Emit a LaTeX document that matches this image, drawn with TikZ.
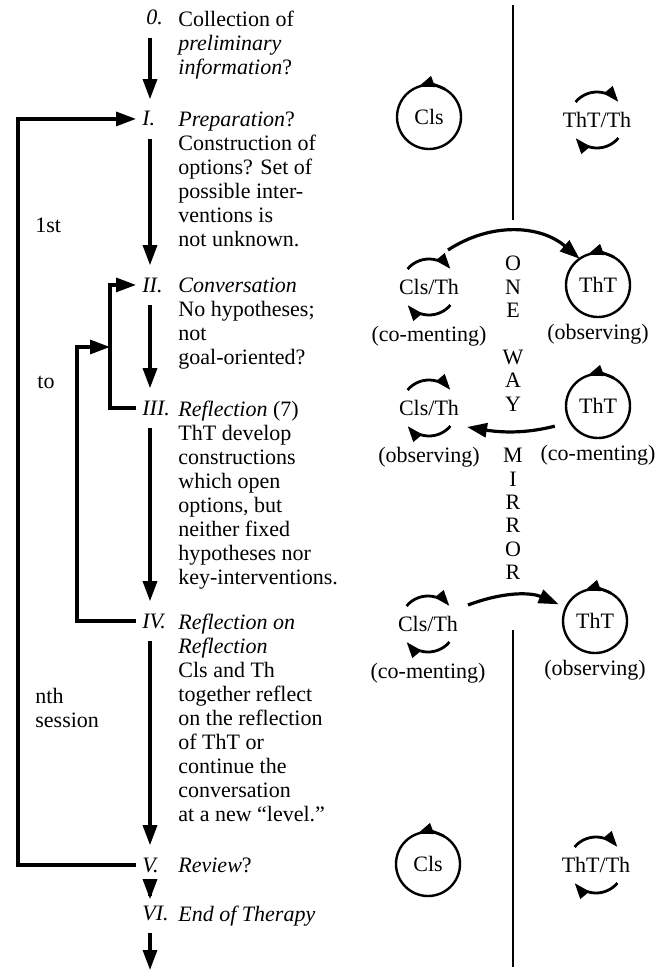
\documentclass[tikz,border=0pt]{standalone}
\usepackage{fontspec}
\setmainfont{Liberation Serif}
\usetikzlibrary{arrows.meta,positioning}

\begin{document}
\begin{tikzpicture}[
    x=0.5pt, y=-0.5pt,
    font=\fontsize{11}{12}\selectfont,
    stage/.style={anchor=north west, align=left, inner sep=0pt},
    num/.style={anchor=base west, inner xsep=3pt, inner ysep=6pt, font=\fontsize{11}{12}\selectfont\itshape},
    side/.style={anchor=base west, inner sep=0pt},
    arrow/.style={-{Triangle[length=10pt,width=7pt]}, line width=1.6pt},
    self/.style={circle, draw, line width=1.2pt, minimum size=32pt, inner sep=0pt, outer sep=0pt},
    pair/.style={inner sep=1pt},
    swirl/.style={-{Triangle[length=8pt,width=5.5pt]}, line width=1.4pt},
    role/.style={inner sep=0pt},
    wall/.style={line width=1.1pt}
  ]
  \useasboundingbox (0,0) rectangle (670,973);

  % stages
  \node[num] (n0) at (140,25) {0.};
  \node[num] (n1) at (136,126) {I.};
  \node[num] (n2) at (136,292) {II.};
  \node[num] (n3) at (136,415) {III.};
  \node[num] (n4) at (136,628) {IV.};
  \node[num] (n5) at (136,872) {V.};
  \node[num] (n6) at (136,920) {VI.};

  \node[stage] (s0) at (178,11) {Collection of\\\textit{preliminary}\\\textit{information}?};
  \node[stage] (s1) at (178,112)
    {\textit{Preparation}?\\Construction of\\options? Set of\\possible inter-\\ventions is\\not unknown.};
  \node[stage] (s2) at (178,278) {\textit{Conversation}\\No hypotheses;\\not\\goal-oriented?};
  \node[stage] (s3) at (178,401)
    {\textit{Reflection} (7)\\ThT develop\\constructions\\which open\\options, but\\neither fixed\\hypotheses nor\\key-interventions.};
  \node[stage] (s4) at (178,614)
    {\textit{Reflection on}\\\textit{Reflection}\\Cls and Th\\together reflect\\on the reflection\\of ThT or\\continue the\\conversation\\at a new ``level.''};
  \node[stage] (s5) at (178,858) {\textit{Review}?};
  \node[stage] (s6) at (178,906) {\textit{End of Therapy}};

  \node[side] (first) at (35,233) {1st};
  \node[side] (to) at (37,388) {to};
  \node[stage] (nth) at (35,688) {nth\\session};

  \coordinate (spine) at (150,0);
  \coordinate (fin) at (150,970);
  \coordinate (outer) at (18,0);
  \coordinate (mid) at (110,0);
  \coordinate (inner) at (77,0);
  \coordinate (join) at (110,347);

  \foreach \a/\b in {n0/n1, n1/n2, n2/n3, n3/n4, n4/n5}
    \draw[arrow] (\a.south -| spine) -- (\b.north -| spine);
  \draw[arrow, shorten <=-5.5pt, shorten >=-3pt] (n5.south -| spine) -- (n6.north -| spine);
  \draw[arrow] (n6.south -| spine) -- (fin);

  % loops
  \draw[arrow] (n5.west) -- (n5.west -| outer) |- (n1.west);
  \draw[arrow] (n3.west) -- (n3.west -| mid) |- (n2.west);
  \draw[arrow] (n4.west) -- (n4.west -| inner) |- (join);

  % mirror
  \node[inner sep=0pt, anchor=north, align=center, font=\fontsize{11}{11.7}\selectfont] (mirror) at (513,256)
    {O\\N\\E\\[11.7pt]W\\A\\Y\\[14pt]M\\I\\R\\R\\O\\R};
  \draw[wall] (513,5) -- (513,220);
  \draw[wall] (513,630) -- (513,967);

  % rooms
  \node[self] (cls1) at (429,117) {Cls};
  \node[pair] (tt1) at (597,120) {ThT/Th};
  \node[pair] (ct2) at (429,287) {Cls/Th};
  \node[self] (tht2) at (598,285) {ThT};
  \node[pair] (ct3) at (429,408) {Cls/Th};
  \node[self] (tht3) at (598,406) {ThT};
  \node[pair] (ct4) at (428,624) {Cls/Th};
  \node[self] (tht4) at (595,621) {ThT};
  \node[self] (cls5) at (428,864) {Cls};
  \node[pair] (tt5) at (596,865) {ThT/Th};

  \node[role, below=19.5pt of ct2.center] (lab2l) {(co-menting)};
  \node[role, below=19.5pt of tht2.center] (lab2r) {(observing)};
  \node[role, below=19.5pt of ct3.center] (lab3l) {(observing)};
  \node[role, below=19.5pt of tht3.center] (lab3r) {(co-menting)};
  \node[role, below=19.5pt of ct4.center] (lab4l) {(co-menting)};
  \node[role, below=19.5pt of tht4.center] (lab4r) {(observing)};

  \foreach \n in {tt1,ct2,ct3,ct4,tt5} {
    \draw[swirl] ([shift={(140:14pt)}]\n.center) arc[start angle=140, end angle=40, radius=14pt];
    \draw[swirl] ([shift={(-40:14pt)}]\n.center) arc[start angle=-40, end angle=-140, radius=14pt];
  }
  \foreach \n in {cls1,tht2,tht3,tht4,cls5}
    \draw[swirl] (\n.60) arc[start angle=60, end angle=110, radius=16pt];

  \draw[arrow] ([shift={(19,-37)}]ct2.center) to[bend left=37] (tht2.125);
  \draw[arrow, shorten <=8pt] (tht3.210) to[bend left=12] ([shift={(38,19)}]ct3.center);
  \draw[arrow, shorten >=4pt] ([shift={(40,-19)}]ct4.center) to[bend left=22] (tht4.155);
\end{tikzpicture}
\end{document}
